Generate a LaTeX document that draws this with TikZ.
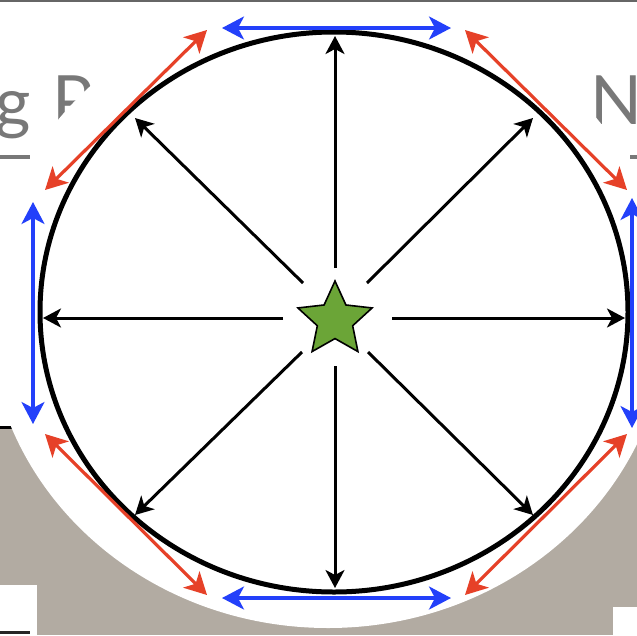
\documentclass[tikz,border=0pt]{standalone}
\usepackage{fontspec}
\newfontfamily\lato{Lato}
\usetikzlibrary{arrows.meta,shapes.geometric}
\definecolor{taupe}{RGB}{178,171,162}
\definecolor{arrblue}{RGB}{35,64,250}
\definecolor{arrred}{RGB}{230,65,40}
\definecolor{stargreen}{RGB}{107,165,55}
\definecolor{txtgray}{RGB}{120,120,120}
\begin{document}
\begin{tikzpicture}[x=1pt,y=-1pt,
  spoke/.style={line width=3pt,-{Stealth[length=18pt,width=19pt,inset=5pt]}},
  bluearr/.style={draw=arrblue,line width=3.2pt,{Stealth[length=22pt,width=23pt,inset=6pt]}-{Stealth[length=22pt,width=23pt,inset=6pt]}},
  redarr/.style={draw=arrred,line width=3.2pt,{Stealth[length=22pt,width=23pt,inset=6pt]}-{Stealth[length=22pt,width=23pt,inset=6pt]}},
  bigtxt/.style={inner sep=0pt,text=txtgray,font=\lato\fontsize{68}{72}\selectfont}]
\useasboundingbox (0,0) rectangle (637,635);
% background pieces
\fill[white] (0,0) rectangle (637,635);
\fill[taupe] (0,428) rectangle (637,635);
\draw[line width=3pt,black] (0,427) -- (40,427);
\fill[white] (0,585) rectangle (37,635);
\draw[line width=3pt,black!85] (0,632) -- (30,632);
\fill[white] (613,607) rectangle (637,635);
% partial text behind the disk
\node[bigtxt,anchor=base east] (tg) at (31,126) {g};
\fill[txtgray] (0,155) rectangle (30,159);
\node[bigtxt,anchor=base west] (tp) at (52,124) {P};
\node[bigtxt,anchor=base west] (tn) at (590,124) {N};
\fill[txtgray] (630,155) rectangle (637,159);
% white disk
\fill[white] (328,312) ellipse [x radius=340, y radius=316];
\draw[line width=2pt,black!60] (0,1) -- (637,1);
% main ellipse
\draw[line width=5pt] (334,312) ellipse [x radius=294, y radius=280];
% star hub
\node[star,star points=5,star point ratio=2.1,minimum size=78pt,inner sep=0pt,
      fill=stargreen,draw=black,line width=1.6pt] (hub) at (335,320) {};
% spoke coordinates
\coordinate (s1) at (335,268); \coordinate (e1) at (335,36);
\coordinate (s2) at (335,366); \coordinate (e2) at (335,588);
\coordinate (s3) at (283,318); \coordinate (e3) at (43,318);
\coordinate (s4) at (392,318); \coordinate (e4) at (625,318);
\coordinate (s5) at (303,283); \coordinate (e5) at (135,118);
\coordinate (s6) at (367,283); \coordinate (e6) at (533,118);
\coordinate (s7) at (302,352); \coordinate (e7) at (135,515);
\coordinate (s8) at (368,352); \coordinate (e8) at (533,515);
\foreach \i in {1,...,8} \draw[spoke] (s\i) -- (e\i);
% blue arrows
\coordinate (bt1) at (222,28); \coordinate (bt2) at (451,28);
\coordinate (bb1) at (222,598); \coordinate (bb2) at (451,598);
\coordinate (bl1) at (33,202); \coordinate (bl2) at (33,424);
\coordinate (br1) at (632,198); \coordinate (br2) at (632,428);
\draw[bluearr] (bt1) -- (bt2);
\draw[bluearr] (bb1) -- (bb2);
\draw[bluearr] (bl1) -- (bl2);
\draw[bluearr] (br1) -- (br2);
% red arrows
\coordinate (rul1) at (207,30); \coordinate (rul2) at (45,190);
\coordinate (rur1) at (465,30); \coordinate (rur2) at (627,190);
\coordinate (rll1) at (45,434); \coordinate (rll2) at (207,595);
\coordinate (rlr1) at (465,595); \coordinate (rlr2) at (627,434);
\draw[redarr] (rul1) -- (rul2);
\draw[redarr] (rur1) -- (rur2);
\draw[redarr] (rll1) -- (rll2);
\draw[redarr] (rlr1) -- (rlr2);
\end{tikzpicture}
\end{document}
